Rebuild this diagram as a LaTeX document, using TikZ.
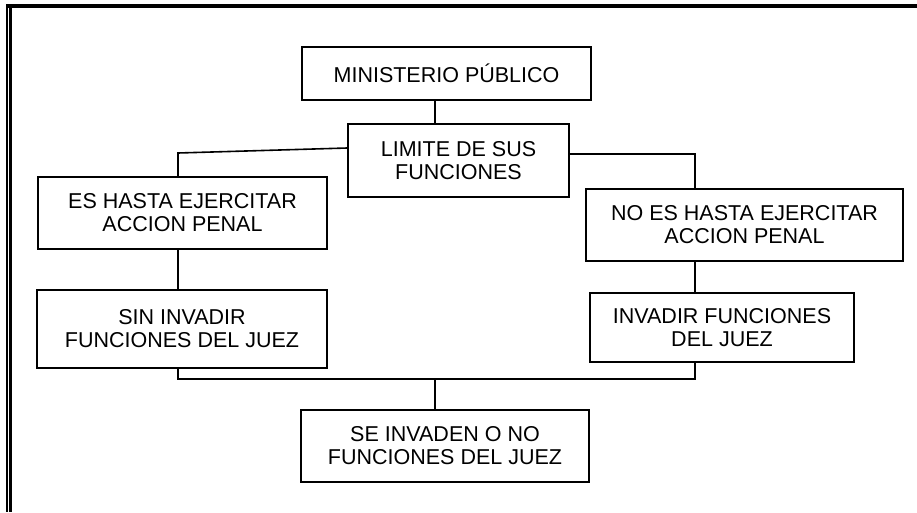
\documentclass[tikz,border=0pt]{standalone}
\usepackage{fontspec}
\setmainfont{Liberation Sans}
\begin{document}
\begin{tikzpicture}[x=1pt,y=-1pt,
  box/.style={draw, line width=1.6pt, inner sep=0pt, align=center,
    font=\fontsize{21.5}{23}\selectfont},
  conn/.style={line width=1.6pt}]
\useasboundingbox (0,0) rectangle (917,512);
% page frame
\fill (6,4) rectangle (917,8);
\fill (6,4) rectangle (7.8,512);
\fill (9.2,4) rectangle (11.6,512);
% boxes
\node[box, minimum width=289pt, minimum height=53pt] (m) at (446.5,73.5) {MINISTERIO PÚBLICO};
\node[box, minimum width=221pt, minimum height=73pt] (l) at (458.5,160.5) {LIMITE DE SUS\\FUNCIONES};
\node[box, minimum width=289pt, minimum height=72pt] (es) at (182.5,213) {ES HASTA EJERCITAR\\ACCION PENAL};
\node[box, minimum width=317pt, minimum height=72pt] (no) at (744.5,225) {NO ES HASTA EJERCITAR\\ACCION PENAL};
\node[box, minimum width=290pt, minimum height=78pt] (sin) at (182,329) {SIN INVADIR\\FUNCIONES DEL JUEZ};
\node[box, minimum width=264pt, minimum height=69pt] (inv) at (722,327.5) {INVADIR FUNCIONES\\DEL JUEZ};
\node[box, minimum width=288pt, minimum height=72pt] (se) at (445,446) {SE INVADEN O NO\\FUNCIONES DEL JUEZ};
% junction points
\coordinate (lt) at (178,153);
\coordinate (rt) at (695,154);
\coordinate (bj) at (435,379);
% connectors
\draw[conn] ([xshift=-11.5pt]m.south) -- ([xshift=-11.5pt]m.south |- l.north);
\draw[conn] ([yshift=12.5pt]l.west) -- (lt) -- (lt |- es.north);
\draw[conn] ([yshift=6.5pt]l.east) -- (rt) -- (rt |- no.north);
\draw[conn] (lt |- es.south) -- (lt |- sin.north);
\draw[conn] (rt |- no.south) -- (rt |- inv.north);
\draw[conn] (lt |- sin.south) -- (lt |- bj) -- (rt |- bj) -- (rt |- inv.south);
\draw[conn] (bj) -- (bj |- se.north);
\end{tikzpicture}
\end{document}
